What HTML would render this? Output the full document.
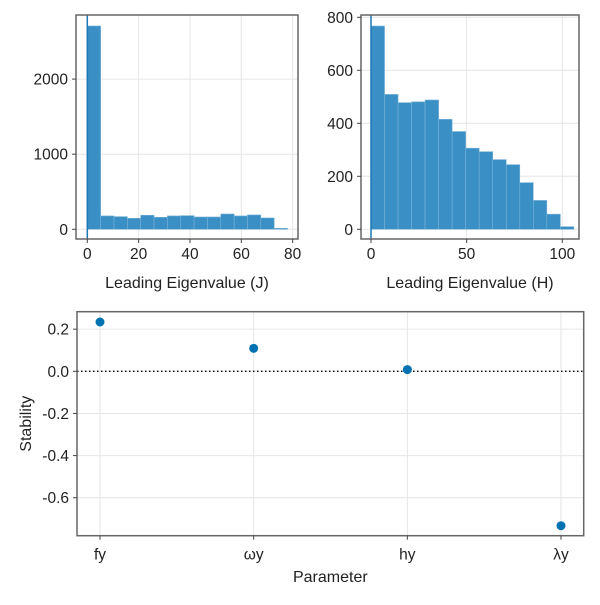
<!DOCTYPE html>
<html><head><meta charset="utf-8"><style>
body{margin:0;background:#fff;font-family:"Liberation Sans",sans-serif;}
svg text{font-family:"Liberation Sans",sans-serif;fill:#222;}
</style></head><body>
<svg id="c" width="600" height="600" xmlns="http://www.w3.org/2000/svg"></svg>
<script>
const jCounts=[2707,178,169,147,187,160,178,182,164,164,204,178,191,151,13];
const jBinWidth=5.2;
const jXTicks=[0,20,40,60,80];
const jYTicks=[0,1000,2000];
const hCounts=[767,509,478,481,488,415,369,306,293,263,244,176,109,57,10];
const hBinWidth=7.07;
const hXTicks=[0,50,100];
const hYTicks=[0,200,400,600,800];
const params=["fy","ωy","hy","λy"];
const stability=[0.234,0.109,0.008,-0.733];
const sYTicks=[0.2,0.0,-0.2,-0.4,-0.6];
const sYLabels=["0.2","0.0","-0.2","-0.4","-0.6"];

const svg=document.getElementById('c');
const NS="http://www.w3.org/2000/svg";
function mk(tag,attrs,parent){const e=document.createElementNS(NS,tag);for(const k in attrs)e.setAttribute(k,attrs[k]);(parent||svg).appendChild(e);return e;}
function txt(s,x,y,anchor,size,parent,rot){const t=mk('text',{x:x,y:y,'text-anchor':anchor,'font-size':size},parent);if(rot)t.setAttribute('transform',`rotate(-90 ${x} ${y})`);t.textContent=s;return t;}
const TICK=15.5, TITLE=16;

function hist(name,L,R,T,B,x0px,xScale,y0px,yScale,counts,bw,xt,yt,xlabel){
  const g=mk('g',{});
  
  
  const X=v=>x0px+v*xScale, Y=v=>y0px-v*yScale;
  xt.forEach(v=>{const l=mk('line',{x1:X(v),x2:X(v),y1:T,y2:B,stroke:'#e6e6e6'},g);
    });
  yt.forEach(v=>{const l=mk('line',{x1:L,x2:R,y1:Y(v),y2:Y(v),stroke:'#e6e6e6'},g);
    });
  counts.forEach((c,i)=>{const r=mk('rect',{x:X(i*bw),y:Y(c),width:bw*xScale,height:c*yScale,fill:'#3a8fc4',stroke:'#79b3da','stroke-width':0.6},g);
    });
  const vl=mk('line',{x1:X(0),x2:X(0),y1:T,y2:B,stroke:'#1f77b4','stroke-width':1.5},g);
  
  const f=mk('rect',{x:L,y:T,width:R-L,height:B-T,fill:'none',stroke:'#666','stroke-width':1.5},g);
  
  xt.forEach(v=>{mk('line',{x1:X(v),x2:X(v),y1:B,y2:B+4,stroke:'#444'},g);const t=txt(String(v),X(v),B+20,'middle',TICK,g);
    });
  yt.forEach(v=>{mk('line',{x1:L-4,x2:L,y1:Y(v),y2:Y(v),stroke:'#444'},g);const t=txt(String(v),L-8,Y(v)+5.5,'end',TICK,g);
    });
  const xl=txt(xlabel,(L+R)/2,B+49,'middle',TITLE,g);
  
}
hist('histogram-j',76,298,15,239,87.3,2.567,229.3,0.0751,jCounts,jBinWidth,jXTicks,jYTicks,'Leading Eigenvalue (J)');
hist('histogram-h',361,579,15,239,371,1.913,229.3,0.265,hCounts,hBinWidth,hXTicks,hYTicks,'Leading Eigenvalue (H)');

const sg=mk('g',{});


const L=77,R=583.7,T=311.7,B=535.7;
const SX=i=>100+i*153.67, SY=v=>371.3-v*210.7;
params.forEach((p,i)=>{const l=mk('line',{x1:SX(i),x2:SX(i),y1:T,y2:B,stroke:'#e6e6e6'},sg);
  });
sYTicks.forEach(v=>{const l=mk('line',{x1:L,x2:R,y1:SY(v),y2:SY(v),stroke:'#e6e6e6'},sg);
  });
const zl=mk('line',{x1:L,x2:R,y1:SY(0),y2:SY(0),stroke:'#000','stroke-width':1.3,'stroke-dasharray':'1.5,2.5'},sg);

stability.forEach((v,i)=>{const c=mk('circle',{cx:SX(i),cy:SY(v),r:4.5,fill:'#0072b2'},sg);
  });
const sf=mk('rect',{x:L,y:T,width:R-L,height:B-T,fill:'none',stroke:'#666','stroke-width':1.5},sg);

params.forEach((p,i)=>{mk('line',{x1:SX(i),x2:SX(i),y1:B,y2:B+4,stroke:'#444'},sg);const t=txt(p,SX(i),B+24,'middle',TICK,sg);
  });
sYTicks.forEach((v,i)=>{mk('line',{x1:L-4,x2:L,y1:SY(v),y2:SY(v),stroke:'#444'},sg);const t=txt(sYLabels[i],L-8,SY(v)+5.5,'end',TICK,sg);
  });
const sx=txt('Parameter',(L+R)/2,582,'middle',TITLE,sg);

const sy=txt('Stability',31,(T+B)/2,'middle',TITLE,sg,true);

</script>
</body></html>
